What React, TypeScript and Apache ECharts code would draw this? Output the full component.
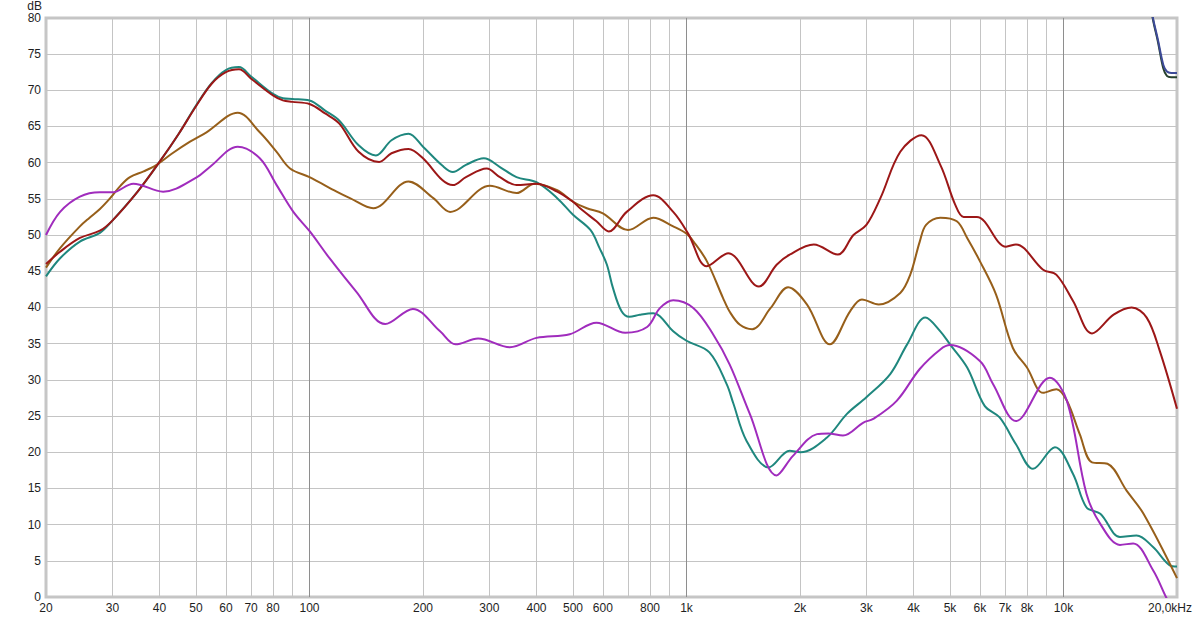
import { useEffect, useRef } from 'react';
import * as echarts from 'echarts';

// Frequency (Hz) / level (dB) pairs
const TEAL: [number, number][] = [
  [20, 44.3], [21.8, 46.8], [24.6, 49.1], [27.8, 50.3], [30, 52.0], [35, 56.0], [40, 60.1], [45, 64.0],
  [50, 67.9], [55, 71.0], [60, 72.8], [65, 73.2], [70, 71.9], [80, 69.5], [85, 68.9], [90, 68.8],
  [100, 68.6], [110, 67.2], [120, 65.8], [135, 62.4], [150, 61.0], [165, 63.1], [183, 64.0], [200, 62.2],
  [225, 59.6], [240, 58.7], [260, 59.7], [290, 60.6], [320, 59.4], [354, 58.0], [400, 57.3], [454, 55.1],
  [500, 52.8], [556, 50.7], [588, 48.2], [615, 45.9], [638, 42.7], [672, 39.5], [706, 38.7], [752, 39.0],
  [816, 39.2], [850, 38.8], [922, 36.7], [1000, 35.4], [1150, 33.8], [1278, 29.4], [1330, 26.8], [1442, 21.6],
  [1652, 17.9], [1878, 20.2], [2005, 20.0], [2354, 22.0], [2664, 25.3], [3000, 27.6], [3470, 30.8], [3848, 34.9],
  [4300, 38.6], [4712, 36.7], [5000, 34.9], [5552, 31.7], [6178, 26.4], [6770, 24.8], [7480, 21.1], [8300, 17.7],
  [9490, 20.7], [10600, 17.0], [11500, 12.4], [12520, 11.5], [14120, 8.3], [15620, 8.5], [17280, 6.9], [19100, 4.4],
  [20000, 4.2],
];

const RED: [number, number][] = [
  [20, 46.0], [21.8, 47.7], [24.6, 49.6], [27.8, 50.6], [30, 52.0], [35, 56.0], [40, 60.1], [45, 64.0],
  [50, 67.8], [55, 70.9], [60, 72.5], [65, 72.9], [70, 71.6], [80, 69.3], [85, 68.6], [90, 68.4],
  [100, 68.1], [110, 66.8], [120, 65.4], [135, 61.5], [153, 60.1], [165, 61.3], [183, 61.9], [200, 60.6],
  [225, 57.6], [240, 56.9], [260, 58.0], [295, 59.2], [320, 58.0], [354, 56.9], [400, 57.1], [454, 56.0],
  [500, 54.6], [522, 53.7], [577, 51.9], [622, 50.5], [694, 53.2], [816, 55.5], [922, 53.2], [1010, 50.2],
  [1132, 45.7], [1290, 47.5], [1556, 42.9], [1734, 45.9], [1878, 47.3], [2176, 48.7], [2520, 47.3], [2772, 50.0],
  [3000, 51.4], [3268, 55.1], [3690, 61.5], [4200, 63.8], [4712, 59.7], [5160, 54.2], [5434, 52.5], [5890, 52.5],
  [7040, 48.4], [7480, 48.7], [8830, 45.2], [9580, 44.5], [10600, 40.9], [11900, 36.4], [13580, 39.0], [15160, 40.0],
  [16620, 38.6], [18000, 34.0], [20000, 26.0],
];

const BROWN: [number, number][] = [
  [20, 45.5], [21.8, 48.2], [24.6, 51.2], [26.1, 52.4], [27.8, 53.6], [29.6, 55.1], [31.5, 56.8], [33.4, 58.0],
  [36.3, 58.8], [39.3, 59.7], [43, 61.2], [48.2, 62.9], [53.3, 64.2], [64.5, 66.9], [73.8, 64.2], [81.8, 61.5],
  [88.8, 59.2], [100, 58.0], [118, 56.0], [128, 55.1], [147.6, 53.7], [183, 57.4], [213, 55.1], [236, 53.2],
  [301, 56.8], [354, 55.8], [396, 57.1], [454, 56.2], [500, 54.6], [544, 53.7], [600, 53.0], [700, 50.7],
  [816, 52.4], [922, 51.2], [1000, 50.2], [1044, 49.1], [1132, 46.4], [1250, 41.3], [1302, 39.4], [1386, 37.6],
  [1494, 37.0], [1670, 39.9], [1860, 42.8], [2088, 40.4], [2400, 34.9], [2718, 39.5], [2920, 41.1], [3234, 40.4],
  [3690, 42.0], [3920, 44.5], [4156, 49.1], [4320, 51.4], [4712, 52.4], [5212, 51.9], [5552, 49.6], [6000, 46.4],
  [6620, 41.8], [7340, 34.4], [8000, 31.7], [8830, 28.2], [9580, 28.7], [10210, 27.1], [11040, 22.5], [11900, 18.6],
  [13080, 18.4], [14700, 14.7], [16300, 11.5], [20000, 2.6],
];

const PURPLE: [number, number][] = [
  [20, 50.0], [21.8, 53.2], [24.6, 55.3], [27.8, 55.9], [30, 55.9], [34.1, 57.1], [40.9, 56.0], [50.3, 58.0],
  [54.4, 59.4], [64.5, 62.2], [73.8, 60.6], [81.8, 56.9], [90.6, 53.2], [100.2, 50.5], [113, 46.8], [133, 42.2],
  [158.8, 37.7], [188, 39.8], [222, 36.7], [244, 34.9], [280, 35.7], [340, 34.5], [400, 35.8], [490, 36.3],
  [577, 37.9], [688, 36.5], [786, 37.3], [850, 39.9], [922, 41.0], [1044, 39.9], [1176, 36.3], [1302, 32.1],
  [1472, 25.3], [1734, 16.8], [1916, 19.5], [2218, 22.5], [2376, 22.6], [2600, 22.3], [2946, 24.1], [3128, 24.6],
  [3610, 27.1], [4156, 31.5], [4712, 34.2], [5000, 34.8], [6000, 32.6], [6506, 29.4], [7480, 24.3], [9200, 30.3],
  [10210, 27.1], [11500, 14.3], [12520, 10.1], [14120, 7.2], [15300, 7.4], [17280, 3.7], [18700, 0.0], [20000, -3.0],
];

const DARK_TAIL: [number, number][] = [
  [16500, 88], [17200, 80.3], [17800, 76.7], [18400, 73.0], [18800, 72.0], [19300, 71.8], [20000, 71.8],
];

const BLUE_TAIL: [number, number][] = [
  [16500, 88], [17200, 80.5], [17800, 77.0], [18400, 73.5], [18800, 72.6], [19300, 72.4], [20000, 72.4],
];

// Vertical grid lines and their labels
const X_TICKS = [20, 30, 40, 50, 60, 70, 80, 90, 100, 200, 300, 400, 500, 600, 700, 800, 900, 1000,
  2000, 3000, 4000, 5000, 6000, 7000, 8000, 9000, 10000, 20000];
const X_TICK_LABELS = ['20', '30', '40', '50', '60', '70', '80', '', '100', '200', '300', '400', '500', '600', '',
  '800', '', '1k', '2k', '3k', '4k', '5k', '6k', '7k', '8k', '', '10k', '20,0kHz'];
const DECADES = [100, 1000, 10000];

const FONT = '"Liberation Sans", Arial, sans-serif';

export default function App() {
  const ref = useRef<HTMLDivElement>(null);

  useEffect(() => {
    if (!ref.current) return;
    const chart = echarts.init(ref.current, null, { renderer: 'svg' });

    const gridLines = X_TICKS.map((f, i) => {
      const edge = f === 20 || f === 20000;
      const decade = DECADES.includes(f);
      const text = X_TICK_LABELS[i];
      return {
        xAxis: f,
        name: text,
        lineStyle: {
          color: edge ? 'rgba(0,0,0,0)' : decade ? '#8e8e8e' : '#c4c4c4',
          width: 1,
          type: 'solid',
        },
        label: {
          show: text !== '',
          formatter: text,
          position: 'start',
          distance: 5,
          color: '#1e1e1e',
          fontSize: 12,
          fontFamily: FONT,
          offset: f === 20000 ? [-7, 0] : [0, 0],
        },
      };
    });

    const mkLine = (name: string, data: [number, number][], color: string, z: number) => ({
      name,
      type: 'line',
      data,
      smooth: 0.35,
      showSymbol: false,
      symbol: 'none',
      clip: true,
      z,
      lineStyle: { color, width: 2 },
      emphasis: { disabled: true },
    });

    chart.setOption({
      animation: false,
      backgroundColor: '#ffffff',
      grid: {
        left: 46,
        right: 23,
        top: 16,
        bottom: 22,
        show: true,
        borderColor: '#c6c6c6',
        borderWidth: 3,
        backgroundColor: '#ffffff',
      },
      xAxis: {
        type: 'log',
        logBase: 10,
        min: 20,
        max: 20000,
        axisLine: { show: false },
        axisTick: { show: false },
        axisLabel: { show: false },
        splitLine: { show: false },
        minorSplitLine: { show: false },
      },
      yAxis: {
        type: 'value',
        min: 0,
        max: 80,
        interval: 5,
        name: 'dB',
        nameLocation: 'end',
        nameGap: 2,
        nameTextStyle: {
          align: 'right',
          verticalAlign: 'bottom',
          padding: [0, 4, 0, 0],
          color: '#1e1e1e',
          fontSize: 12,
          fontFamily: FONT,
        },
        axisLine: { show: false },
        axisTick: { show: false },
        axisLabel: { margin: 5, color: '#1e1e1e', fontSize: 12, fontFamily: FONT },
        splitLine: { show: true, lineStyle: { color: '#c4c4c4', width: 1 } },
      },
      series: [
        {
          name: 'grid',
          type: 'line',
          data: [],
          z: 1,
          silent: true,
          markLine: {
            silent: true,
            symbol: ['none', 'none'],
            animation: false,
            z: 1,
            emphasis: { disabled: true },
            data: gridLines,
          },
        },
        mkLine('Teal', TEAL, '#1f877e', 3),
        mkLine('Brown', BROWN, '#975f1a', 4),
        mkLine('Red', RED, '#9c1717', 5),
        mkLine('Purple', PURPLE, '#a02cbd', 6),
        mkLine('Dark', DARK_TAIL, '#26402c', 7),
        mkLine('Blue', BLUE_TAIL, '#3d4a98', 8),
      ],
    });

    return () => chart.dispose();
  }, []);

  return (
    <div
      ref={ref}
      style={{ position: 'absolute', left: 0, top: 0, width: 1200, height: 619 }}
    />
  );
}
